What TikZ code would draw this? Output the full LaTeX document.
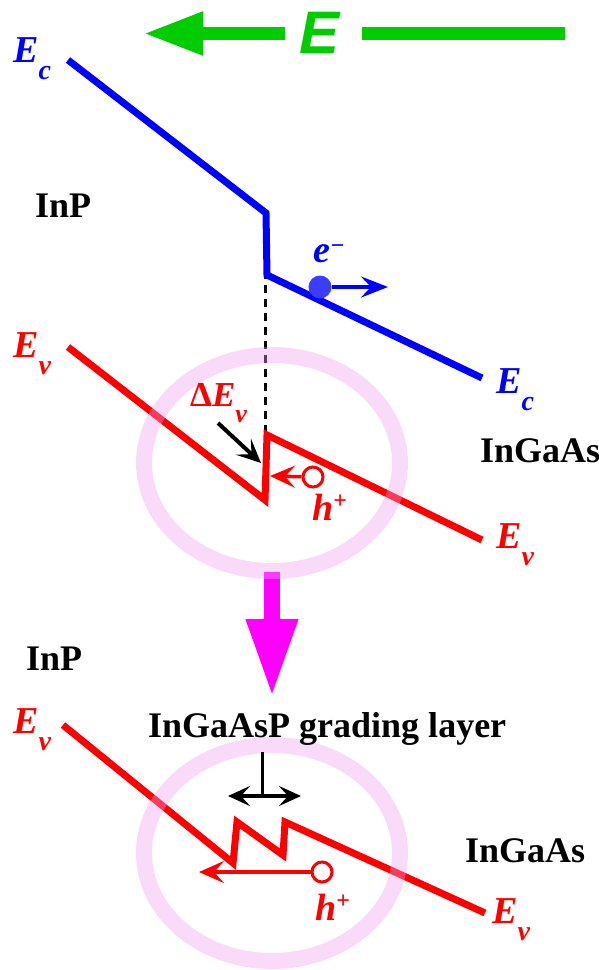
\documentclass[tikz,border=0pt]{standalone}
\usepackage{fontspec}
\setmainfont{Liberation Serif}
\newfontfamily\fieldfont{Liberation Sans}
\usetikzlibrary{arrows.meta}
\definecolor{bandblue}{RGB}{0,0,255}
\definecolor{bandred}{RGB}{255,0,0}
\definecolor{fieldgreen}{RGB}{0,204,0}
\definecolor{elblue}{RGB}{60,60,255}
\definecolor{arrowmag}{RGB}{255,0,255}
\definecolor{ringpink}{RGB}{240,160,240}
\newcommand{\bandlab}[2]{{\fontsize{38}{38}\selectfont\bfseries\itshape #1\raisebox{-17pt}{\fontsize{28}{28}\selectfont #2}}}
\newcommand{\holelab}{{\fontsize{38}{38}\selectfont\bfseries\itshape h\raisebox{12pt}{\fontsize{24}{24}\selectfont\upshape +}}}
\begin{document}
\begin{tikzpicture}[x=1pt,y=-1pt,
  band/.style={line width=7pt, miter limit=10},
  lbl/.style={inner sep=0pt, anchor=base west},
  mat/.style={lbl, font=\fontsize{36}{36}\selectfont\bfseries},
  ring/.style={line width=16pt, draw=ringpink, draw opacity=0.38},
  thinarrow/.style={line width=3.5pt, -{Stealth[length=25pt,width=22pt,inset=10pt]}},
  blackarrow/.style={line width=4pt, -{Stealth[length=24pt,width=22pt,inset=11pt]}},
  dbl/.style={line width=3.5pt, {Stealth[length=22pt,width=20pt,inset=9pt]}-{Stealth[length=22pt,width=20pt,inset=9pt]}},
  holecirc/.style={circle, draw=bandred, line width=3pt, fill=white, minimum size=20pt, inner sep=0pt}]
\useasboundingbox (0,0) rectangle (599,970);

% electric field
\node[inner sep=0pt, text=fieldgreen, font=\fieldfont\bfseries\itshape\fontsize{60}{60}\selectfont] (Ef) at (320,33) {E};
\coordinate (gL) at (285,33.5);
\coordinate (gTip) at (143,33.5);
\coordinate (gR0) at (362,33.5);
\coordinate (gR1) at (565,33.5);
\draw[fieldgreen, line width=13.5pt, -{Triangle[length=60pt,width=40pt]}] (gL) -- (gTip);
\draw[fieldgreen, line width=13.5pt] (gR0) -- (gR1);

% interface dashed line
\coordinate (dTop) at (265,215);
\coordinate (dBot) at (265,500);
\draw[black, line width=3pt, dash pattern=on 8pt off 6pt] (dTop) -- (dBot);

% conduction band
\coordinate (c1) at (68,60);
\coordinate (c2) at (266,213);
\coordinate (c3) at (267,275);
\coordinate (c4) at (482,378);
\draw[band, bandblue] (c1) -- (c2) -- (c3) -- (c4);

% valence band upper
\coordinate (v1) at (68,347);
\coordinate (v2) at (265,500);
\coordinate (v3) at (267,435);
\coordinate (v4) at (482,540);
\draw[band, bandred] (v1) -- (v2) -- (v3) -- (v4);

% valence band lower
\coordinate (w1) at (63,725);
\coordinate (w2) at (233,863);
\coordinate (w3) at (237,822);
\coordinate (w4) at (283,855);
\coordinate (w5) at (285,822);
\coordinate (w6) at (485,913);
\draw[band, bandred] (w1) -- (w2) -- (w3) -- (w4) -- (w5) -- (w6);

% magenta arrow
\coordinate (m1) at (272,572);
\coordinate (m2) at (272,697);
\draw[arrowmag, line width=16pt, -{Triangle[length=78pt,width=48pt]}] (m1) -- (m2);

% rings
\coordinate (r1) at (272,463);
\coordinate (r2) at (272,853);
\draw[ring] (r1) ellipse [x radius=128pt, y radius=108pt];
\draw[ring] (r2) ellipse [x radius=128pt, y radius=108pt];

% electron
\node[circle, fill=elblue, minimum size=23pt, inner sep=0pt] (el) at (320,287) {};
\coordinate (elTip) at (388,287);
\draw[bandblue, line width=4pt, -{Stealth[length=27pt,width=21pt,inset=10pt]}] (el) -- (elTip);
\node[lbl, text=bandblue] (elab) at (313,262) {\fontsize{38}{38}\selectfont\bfseries\itshape e\raisebox{9pt}{\fontsize{24}{24}\selectfont −}};

% holes
\node[holecirc] (h1) at (313,477) {};
\coordinate (h1Tip) at (270,476);
\draw[bandred, thinarrow] (h1) -- (h1Tip);
\node[lbl, text=bandred] (h1lab) at (312,520) {\holelab};

\node[holecirc] (h2) at (322,872) {};
\coordinate (h2Tip) at (199,872);
\draw[bandred, thinarrow] (h2) -- (h2Tip);
\node[lbl, text=bandred] (h2lab) at (315,920) {\holelab};

% Delta Ev
\node[lbl, text=bandred] (dEv) at (190,406) {\fontsize{35}{35}\selectfont\bfseries Δ\textit{E}\raisebox{-16pt}{\fontsize{26}{26}\selectfont\textit{v}}};
\coordinate (dA) at (218,423);
\coordinate (dB) at (261,463);
\draw[black, blackarrow] (dA) -- (dB);

% grading layer
\node[mat] (grad) at (148,737) {InGaAsP grading layer};
\coordinate (gl) at (262,752);
\coordinate (gm) at (262,796);
\coordinate (gA) at (228,796);
\coordinate (gB) at (301,796);
\draw[black, line width=3pt] (gl) -- (gm);
\draw[black, dbl] (gA) -- (gB);

% material labels
\node[mat] (inp1) at (35,217) {InP};
\node[mat] (ingaas1) at (480,462) {InGaAs};
\node[mat] (inp2) at (26,670) {InP};
\node[mat] (ingaas2) at (465,862) {InGaAs};

% band labels
\node[lbl, text=bandblue] (ec1) at (13,62) {\bandlab{E}{c}};
\node[lbl, text=bandred] (ev1) at (13,357) {\bandlab{E}{v}};
\node[lbl, text=bandblue] (ec2) at (496,393) {\bandlab{E}{c}};
\node[lbl, text=bandred] (ev2) at (496,548) {\bandlab{E}{v}};
\node[lbl, text=bandred] (ev3) at (13,733) {\bandlab{E}{v}};
\node[lbl, text=bandred] (ev4) at (492,923) {\bandlab{E}{v}};
\end{tikzpicture}
\end{document}
